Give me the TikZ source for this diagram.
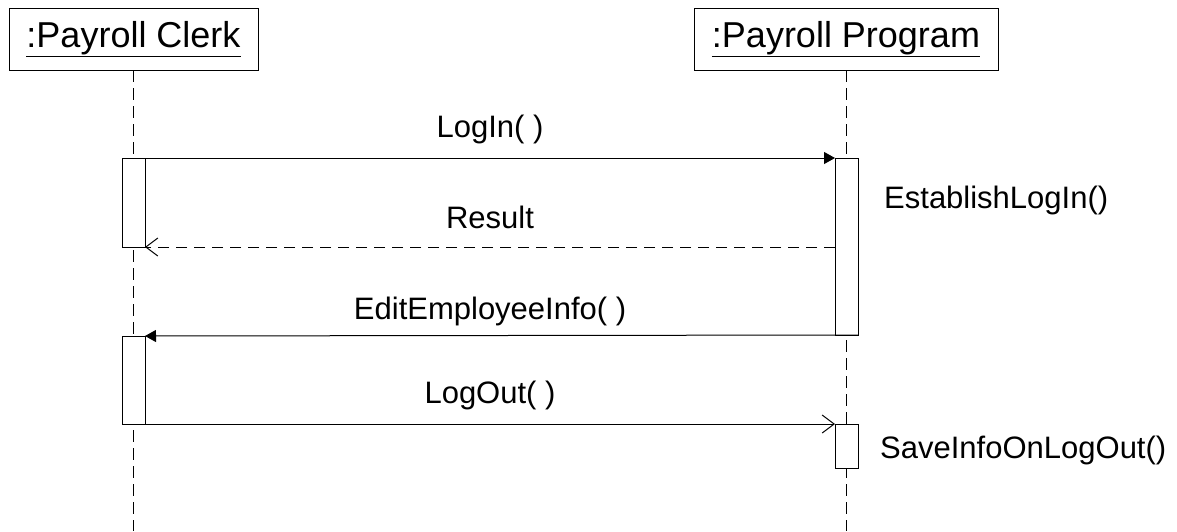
\documentclass[tikz,border=0pt]{standalone}
\usepackage{fontspec}
\setmainfont{Liberation Sans}
\usetikzlibrary{arrows.meta}

\begin{document}
\begin{tikzpicture}[x=1pt, y=-1pt]
  \tikzset{
    obj/.style={draw, line width=1pt, minimum height=62pt, inner sep=0pt, outer sep=0pt, font=\fontsize{36}{40}\selectfont},
    act/.style={draw, line width=1pt, fill=white, minimum width=23pt, inner sep=0pt, outer sep=0pt},
    life/.style={line width=1pt, dash pattern=on 12pt off 6pt},
    lbl/.style={font=\fontsize{31}{36}\selectfont, anchor=base, inner sep=0pt},
    call/.style={line width=1pt, -{Triangle[length=11pt,width=12pt]}},
    reply/.style={line width=1pt, dash pattern=on 11pt off 7pt, -{Straight Barb[length=12pt,width=18pt]}},
    async/.style={line width=1pt, -{Straight Barb[length=12pt,width=18pt]}}
  }
  \useasboundingbox (0,0) rectangle (1177,531);
  \node[obj, minimum width=249pt] (clerk) at (133.5,39) {\underline{:Payroll Clerk}};
  \node[obj, minimum width=304pt] (prog) at (846,39) {\underline{:Payroll Program}};
  \coordinate (clerkEnd) at (133.5,531);
  \coordinate (progEnd) at (846.5,531);
  \draw[life] (clerk) -- (clerkEnd);
  \draw[life] (prog.south -| progEnd) -- (progEnd);
  \node[act, minimum height=89pt] (c1) at (133.5,202.5) {};
  \node[act, minimum height=177pt] (p1) at (846.5,246.5) {};
  \node[act, minimum height=88pt] (c2) at (133.5,380) {};
  \node[act, minimum height=44pt] (p2) at (846.5,446) {};
  \draw[call] (c1.north east) -- node[lbl, midway, yshift=21pt] {LogIn( )} (p1.north west);
  \draw[reply] (p1.west |- c1.south east) -- node[lbl, midway, yshift=19pt] {Result} (c1.south east);
  \draw[call] (p1.south east) -- node[lbl, pos=0.516, yshift=16pt] {EditEmployeeInfo( )} (c2.north east);
  \draw[async] (c2.south east) -- node[lbl, midway, yshift=21pt] {LogOut( )} (p2.north west);
  \node[lbl, anchor=base west] (estab) at (884,208) {EstablishLogIn()};
  \node[lbl, anchor=base west] (save) at (880,458) {SaveInfoOnLogOut()};
\end{tikzpicture}
\end{document}
